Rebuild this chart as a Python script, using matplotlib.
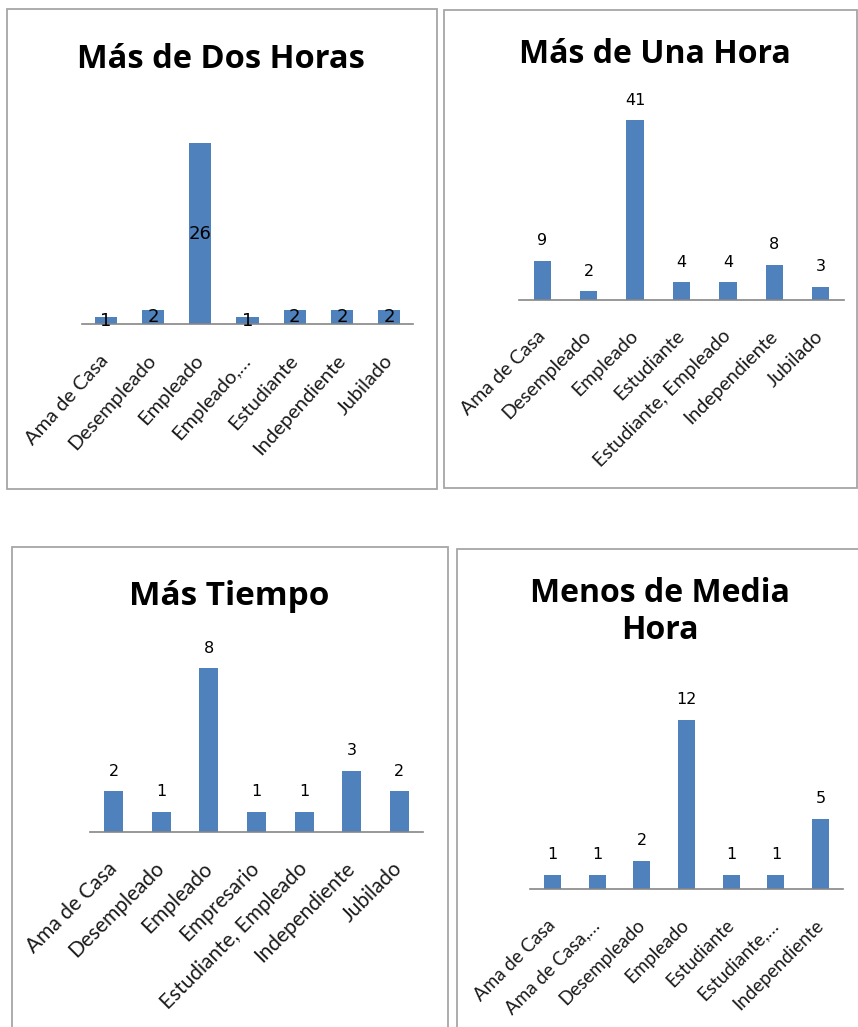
import matplotlib.pyplot as plt
from matplotlib.patches import Rectangle

# datos de cada gráfico
titulos = ['Más de Dos Horas', 'Más de Una Hora', 'Más Tiempo', 'Menos de Media\nHora']

cat_dos_horas = ['Ama de Casa', 'Desempleado', 'Empleado', 'Empleado,…',
                 'Estudiante', 'Independiente', 'Jubilado']
val_dos_horas = [1, 2, 26, 1, 2, 2, 2]

cat_una_hora = ['Ama de Casa', 'Desempleado', 'Empleado', 'Estudiante',
                'Estudiante, Empleado', 'Independiente', 'Jubilado']
val_una_hora = [9, 2, 41, 4, 4, 8, 3]

cat_mas_tiempo = ['Ama de Casa', 'Desempleado', 'Empleado', 'Empresario',
                  'Estudiante, Empleado', 'Independiente', 'Jubilado']
val_mas_tiempo = [2, 1, 8, 1, 1, 3, 2]

cat_media_hora = ['Ama de Casa', 'Ama de Casa,…', 'Desempleado', 'Empleado',
                  'Estudiante', 'Estudiante,…', 'Independiente']
val_media_hora = [1, 1, 2, 12, 1, 1, 5]

W, H = 858, 1027
AZUL = '#4F81BD'

fig = plt.figure(figsize=(W / 100, H / 100), dpi=100)


def px(x0, y0, x1, y1):
    # pixeles (origen arriba a la izquierda) -> fraccion de figura
    return [x0 / W, 1 - y1 / H, (x1 - x0) / W, (y1 - y0) / H]


def caja(x0, y0, x1, y1):
    fig.patches.append(Rectangle((x0 / W, 1 - y1 / H), (x1 - x0) / W, (y1 - y0) / H,
                                 transform=fig.transFigure, fill=False,
                                 edgecolor='#a6a6a6', linewidth=1.3))


def titulo(texto, xc, y_base, fs):
    fig.text(xc / W, 1 - y_base / H, texto, ha='center', va='baseline',
             fontsize=fs, fontweight='bold', family='Open Sans')


def grafico(cats, vals, pos, ymax, ancho, rot, fs_tick, fs_dato, centrado=False):
    ax = fig.add_axes(px(*pos))
    x = range(len(cats))
    barras = ax.bar(x, vals, width=ancho, color=AZUL)
    ax.set_xlim(-0.5, len(cats) - 0.5)
    ax.set_ylim(0, ymax)
    for s in ['top', 'right', 'left']:
        ax.spines[s].set_visible(False)
    ax.spines['bottom'].set_color('#868686')
    ax.spines['bottom'].set_linewidth(1.2)
    ax.set_yticks([])
    ax.set_xticks(list(x))
    ax.set_xticklabels(cats, rotation=rot, ha='right', va='center',
                       rotation_mode='anchor', fontsize=fs_tick,
                       family='Lato', color='#1a1a1a')
    ax.tick_params(axis='x', length=0, pad=24)
    ax.patch.set_alpha(0)
    if centrado:
        ax.bar_label(barras, label_type='center', fontsize=fs_dato,
                     family='DejaVu Sans')
    else:
        ax.bar_label(barras, padding=9, fontsize=fs_dato, family='DejaVu Sans')
    return ax


# marcos
caja(7, 9, 437, 489)
caja(444, 10, 857, 488)
caja(12, 547, 448, 1040)
caja(457, 549, 870, 1040)

grafico(cat_dos_horas, val_dos_horas, (82, 100, 413, 324), 32.2, 0.47, 48, 14.5, 13,
        centrado=True)
grafico(cat_una_hora, val_una_hora, (519, 100, 844, 300), 45.6, 0.37, 45, 14, 11.5)
grafico(cat_mas_tiempo, val_mas_tiempo, (90, 640, 423, 832), 9.37, 0.40, 45, 15, 11.5)
grafico(cat_media_hora, val_media_hora, (530, 690, 843, 889), 14.13, 0.38, 45, 13.5, 11.5)

# titulos
titulo(titulos[0], 221, 68, 23.5)
titulo(titulos[1], 655, 63, 23)
titulo(titulos[2], 229, 605, 24)
linea1, linea2 = titulos[3].split('\n')
titulo(linea1, 660, 602, 23)
titulo(linea2, 660, 639, 23)

fig.savefig('out.png', dpi=100)
